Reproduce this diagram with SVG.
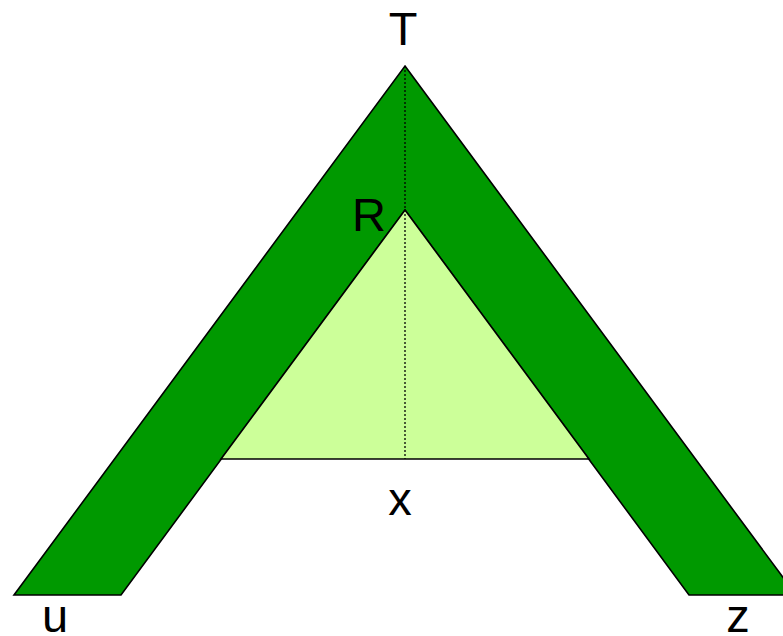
<svg xmlns="http://www.w3.org/2000/svg" width="783" height="636" viewBox="0 0 783 636">
<style>
.lbl{font-family:"Liberation Sans",Arial,sans-serif;font-size:47px;fill:#000;text-anchor:middle}
.shape{stroke:#000;stroke-width:1.6;stroke-linejoin:miter}
</style>
<rect width="783" height="636" fill="#fff"/>
<g id="band">
<polygon class="shape" fill="#009900" points="405,66 796,595 689,595 405,210 121,595 14,595"/>
</g>
<g id="triangle">
<polygon class="shape" fill="#CCFF99" points="405,210 589,459 221,459"/>
</g>
<g id="connectors">
<line x1="405" y1="66" x2="405" y2="459" stroke="#000" stroke-width="1.3" stroke-dasharray="2,2"/>
</g>
<g id="labels">
<text class="lbl" x="403" y="45">T</text>
<text class="lbl" x="369" y="231">R</text>
<text class="lbl" x="400" y="515">x</text>
<text class="lbl" x="55" y="632">u</text>
<text class="lbl" x="738" y="632">z</text>
</g>
</svg>
